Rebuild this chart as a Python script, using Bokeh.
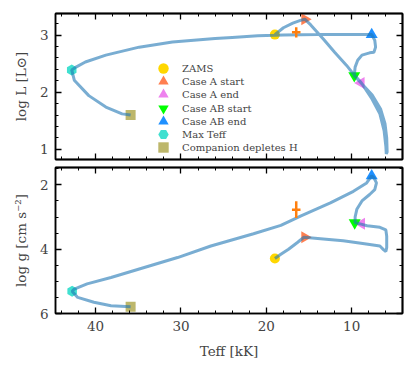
import math
from bokeh.plotting import figure
from bokeh.models import Range1d, LinearAxis, SingleIntervalTicker, FixedTicker, Legend, LegendItem
from bokeh.layouts import column
from bokeh.embed import file_html
from bokeh.resources import INLINE

# ---------------- data ----------------
# evolutionary track in the HR panel (Teff [kK], log L)
hr_teff = [19.0, 18.0, 16.9, 16.0, 15.5, 14.8, 13.3, 12.0, 10.6, 9.7, 8.9, 7.7, 6.7, 6.2, 6.0,
           5.95, 5.85, 5.9, 6.1, 6.6, 7.6, 8.9, 9.7, 9.6, 9.3, 8.8, 7.9, 7.4, 7.2, 7.3, 7.66,
           10.0, 14.0, 18.0, 21.0, 24.0, 26.0, 28.5, 31.0, 34.9, 38.8, 41.2, 42.3, 42.8, 42.5,
           40.8, 38.8, 36.9, 35.9]
hr_logL = [3.01, 3.13, 3.21, 3.26, 3.28, 3.18, 2.93, 2.70, 2.47, 2.30, 2.17, 1.90, 1.62, 1.32, 1.05,
           0.92, 0.95, 1.20, 1.45, 1.70, 1.95, 2.16, 2.29, 2.44, 2.56, 2.65, 2.69, 2.70, 2.79, 2.91, 3.01,
           3.01, 3.01, 3.005, 2.99, 2.96, 2.94, 2.91, 2.88, 2.79, 2.65, 2.53, 2.44, 2.39, 2.21,
           1.94, 1.74, 1.62, 1.60]

# evolutionary track in the surface-gravity panel (Teff [kK], log g)
g_teff = [19.0, 18.3, 17.4, 16.4, 15.6, 13.0, 11.0, 8.5, 6.7, 6.25, 6.0, 5.9, 5.9, 6.0, 6.7,
          8.2, 8.9, 9.6, 9.6, 9.4, 8.8, 7.9, 7.3, 7.1, 7.4, 7.66, 8.25, 9.8, 12.5, 16.0, 18.3,
          21.5, 26.5, 30.4, 34.3, 38.2, 41.0, 42.5, 42.75, 42.1, 40.2, 38.2, 35.9]
g_logg = [4.29, 4.16, 4.00, 3.80, 3.63, 3.69, 3.74, 3.83, 3.90, 4.02, 4.07, 3.95, 3.60, 3.40, 3.32,
          3.27, 3.22, 3.18, 3.00, 2.76, 2.50, 2.30, 2.15, 1.94, 1.78, 1.72, 1.94, 2.20, 2.56, 2.97, 3.26,
          3.52, 3.90, 4.26, 4.57, 4.88, 5.08, 5.24, 5.31, 5.50, 5.65, 5.76, 5.79]

# key evolutionary events
event_labels = ["ZAMS", "Case A start", "Case A end", "Case AB start", "Case AB end",
                "Max Teff", "Companion depletes H"]
event_teff_hr = [19.0, 15.5, 8.9, 9.7, 7.66, 42.8, 35.9]
event_logL = [3.01, 3.28, 2.16, 2.29, 3.01, 2.39, 1.60]
event_teff_g = [19.0, 15.5, 8.85, 9.65, 7.66, 42.75, 35.9]
event_logg = [4.29, 3.63, 3.21, 3.18, 1.72, 5.31, 5.79]
event_colors = ["gold", "coral", "violet", "lime", "dodgerblue", "turquoise", "darkkhaki"]
event_markers = ["circle", "triangle", "triangle", "inverted_triangle", "triangle", "hex", "square"]
event_angles = [0.0, -math.pi / 2, math.pi / 2, 0.0, 0.0, math.pi / 6, 0.0]
event_sizes = [10, 12, 12, 12, 12, 11, 10]

# observed star (error bar)
obs_teff = [16.5]
obs_teff_err = [0.5]
obs_logL = [3.05]
obs_logL_err = [0.09]
obs_logg = [2.77]
obs_logg_err = [0.26]

# tick positions
x_major = [10, 20, 30, 40]
x_minor = [6, 8, 12, 14, 16, 18, 22, 24, 26, 28, 32, 34, 36, 38, 42, 44]
yL_major = [1, 2, 3]
yL_minor = [0.8 + 0.2 * k for k in range(14)]
yg_major = [2, 4, 6]
yg_minor = [1.5, 2.5, 3.0, 3.5, 4.5, 5.0, 5.5]

X_RANGE = (44.7, 4.05)
FONT = "DejaVu Serif"


def tick_axis(major, minor, side, p):
    # unlabeled mirror axes: one for long ticks, one for short ticks
    a1 = LinearAxis(ticker=FixedTicker(ticks=[], minor_ticks=major))
    a2 = LinearAxis(ticker=FixedTicker(ticks=[], minor_ticks=minor))
    for a, ln in ((a1, 6), (a2, 3)):
        a.minor_tick_in = ln
        a.minor_tick_out = 0
        a.major_tick_in = 0
        a.major_tick_out = 0
        a.minor_tick_line_width = 1.3 if ln == 6 else 1.0
        a.axis_line_width = 1.5
        a.major_label_standoff = 0
        p.add_layout(a, side)


def style(p, y_major, y_minor, y_interval, y_nminor, show_x_labels):
    p.xgrid.visible = False
    p.ygrid.visible = False
    p.outline_line_color = "black"
    p.outline_line_width = 1.5
    for ax in p.left + (p.below if show_x_labels else []):
        ax.major_tick_in = 6
        ax.major_tick_out = 0
        ax.minor_tick_in = 3
        ax.minor_tick_out = 0
        ax.axis_line_width = 1.5
        ax.major_tick_line_width = 1.3
        ax.minor_tick_line_width = 1.0
        ax.major_label_text_font = FONT
        ax.major_label_text_font_size = "13.5px"
        ax.axis_label_text_font = FONT
        ax.axis_label_text_font_size = "13.5px"
        ax.axis_label_text_font_style = "normal"
        ax.major_label_standoff = 7
    p.left[0].ticker = SingleIntervalTicker(interval=y_interval, num_minor_ticks=y_nminor)
    if show_x_labels:
        p.below[0].ticker = SingleIntervalTicker(interval=10, num_minor_ticks=5)
    else:
        p.below[0].visible = False
        tick_axis(x_major, x_minor, "below", p)
    tick_axis(x_major, x_minor, "above", p)
    tick_axis(y_major, y_minor, "right", p)


# ---------------- top panel: HR diagram ----------------
p1 = figure(frame_width=347, frame_height=146, x_range=Range1d(*X_RANGE),
            y_range=Range1d(0.82, 3.38), output_backend="svg", toolbar_location=None,
            min_border_left=55, min_border_right=10, min_border_top=13, min_border_bottom=4)
style(p1, yL_major, yL_minor, 1, 5, False)
p1.left[0].axis_label = "log L [L⊙]"
p1.left[0].axis_label_standoff = 8

renderers = []
for i in range(len(event_labels)):
    r = p1.scatter(x=[event_teff_hr[i]], y=[event_logL[i]], marker=event_markers[i],
                   angle=event_angles[i], size=event_sizes[i], fill_color=event_colors[i],
                   line_color=event_colors[i], line_width=0)
    renderers.append(r)
p1.line(hr_teff, hr_logL, line_color="#1f77b4", line_alpha=0.6, line_width=3)
p1.segment(x0=[obs_teff[0] - obs_teff_err[0]], x1=[obs_teff[0] + obs_teff_err[0]],
           y0=obs_logL, y1=obs_logL, line_color="#ff7f0e", line_width=2.5)
p1.segment(x0=obs_teff, x1=obs_teff, y0=[obs_logL[0] - obs_logL_err[0]],
           y1=[obs_logL[0] + obs_logL_err[0]], line_color="#ff7f0e", line_width=2.5)

# legend: one single-row legend per entry so that the glyphs can be large while rows stay tight
ROW_PITCH = 13.1
for i, r in enumerate(renderers):
    lg = Legend(items=[LegendItem(label=event_labels[i], renderers=[r])],
                location=(95, round(77.7 - ROW_PITCH * i)),
                border_line_alpha=0, background_fill_alpha=0,
                label_text_font=FONT, label_text_font_size="10px", glyph_width=26,
                glyph_height=26, label_height=26, spacing=0, padding=0, margin=0,
                label_standoff=6)
    p1.add_layout(lg)

# ---------------- bottom panel: log g ----------------
p2 = figure(frame_width=347, frame_height=146, x_range=p1.x_range,
            y_range=Range1d(6.0, 1.46), output_backend="svg", toolbar_location=None,
            min_border_left=55, min_border_right=10, min_border_top=4, min_border_bottom=10)
style(p2, yg_major, yg_minor, 2, 4, True)
p2.left[0].axis_label = "log g [cm s⁻²]"
p2.left[0].axis_label_standoff = 8
p2.below[0].axis_label = "Teff [kK]"
p2.below[0].axis_label_standoff = 9

for i in range(len(event_labels)):
    p2.scatter(x=[event_teff_g[i]], y=[event_logg[i]], marker=event_markers[i],
               angle=event_angles[i], size=event_sizes[i], fill_color=event_colors[i],
               line_color=event_colors[i], line_width=0)
p2.line(g_teff, g_logg, line_color="#1f77b4", line_alpha=0.6, line_width=3)
p2.segment(x0=[obs_teff[0] - obs_teff_err[0]], x1=[obs_teff[0] + obs_teff_err[0]],
           y0=obs_logg, y1=obs_logg, line_color="#ff7f0e", line_width=2.5)
p2.segment(x0=obs_teff, x1=obs_teff, y0=[obs_logg[0] - obs_logg_err[0]],
           y1=[obs_logg[0] + obs_logg_err[0]], line_color="#ff7f0e", line_width=2.5)

layout = column(p1, p2, spacing=0)
open("out.html", "w").write(file_html(layout, INLINE))
